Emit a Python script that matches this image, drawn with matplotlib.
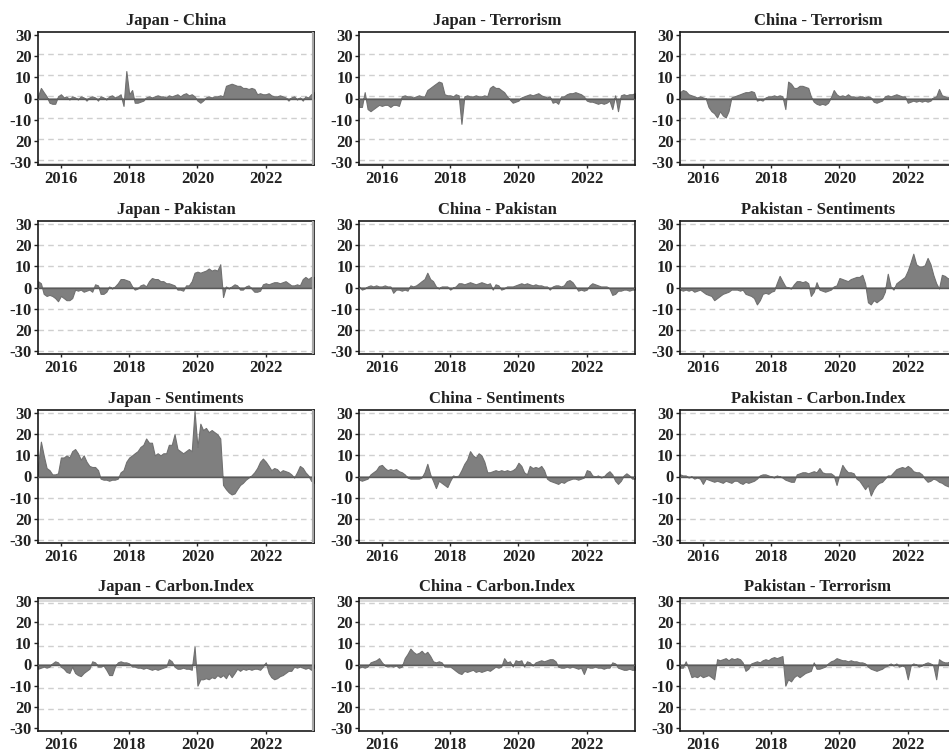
import numpy as np
import pandas as pd
import matplotlib
matplotlib.use("Agg")
import matplotlib.pyplot as plt
import matplotlib.dates as mdates

# monthly observations, May 2015 .. Jun 2023
dates = pd.date_range("2015-05-01", periods=98, freq="MS")

japan_china = [
    1, 5, 3, 1, -2, -2.5, -2.5, 1,
    2, 0.5, 1, -0.5, 1, 0.5, -0.5, 1, 0.5, -1, 0.5, 1,
    0.5, -1, 1, 0.5, -0.5, 1, 1.5, 0.5, 1, 2, -3.5, 13,
    2, 4, -2, -2, -1.5, -1, 0.5, 1, 0.5, 1, 1.5, 1,
    1, 0.5, 1.5, 1, 1.5, 2, 1, 2, 2.5, 1.5, 2, 1,
    -1, -2, -1, 0.5, 1, 0.5, 1, 1, 1.5, 1, 6, 6.5,
    7, 6.5, 6, 6, 5, 5, 4.5, 5, 4.5, 2, 2.5, 2,
    2, 2.5, 1.5, 1, 1, 1.5, 1, 0.5, -1, 0.5, 1, -0.5,
    0.5, -1, 1, 0.5, 2, 3,
]
japan_terrorism = [
    -4, -4, 3, -5, -6, -5, -4, -3,
    -3.5, -3, -3, -4, -3, -3, -3.5, 1, 1.5, 1, 1, 0.5,
    1, 1.5, 1, 1, 4, 5, 6, 7, 8, 7.5, 2, 1.5,
    1.5, 1, 2, 1.5, -12, 1, 1.5, 1, 1, 1.5, 1, 1,
    1.5, 1, 5, 6, 5, 5, 4, 3, 1, -0.5, -2, -1.5,
    -1, 0.5, 1, 1.5, 2, 1.5, 2, 2.5, 1.5, 1, 0.5, 1,
    -2, -1.5, -2.5, 1, 1, 2, 2.5, 2.5, 3, 2.5, 2, 1,
    -1, -1.5, -1.5, -2, -2.5, -2, -2.5, -2, -1, -5, 1.5, -6,
    1.5, 2, 1.5, 2, 2, 2.5,
]
china_terrorism = [
    3, 4, 3.5, 2, 1.5, 1, 0.5, 1,
    0.5, 0, -4, -6, -7, -9, -6, -8, -9, -6, 0.5, 1,
    1.5, 2, 2.5, 3, 3, 3.5, 3, -1, -0.5, -1, 0.5, 1,
    1, 1.5, 1, 1.5, 1, -5, 8, 7, 5, 5, 6, 6,
    5.5, 5, 1, -1.5, -2.5, -3, -2.5, -3, -2, 0.5, 4, 2,
    1, 1.5, 1, 2, 1, 1, 0.5, 1, 1, 0.5, 1, 0.5,
    -1.5, -2, -1.5, -1, 1, 1.5, 1, 1.5, 2, 1.5, 1, 1,
    -2, -1.5, -1, -1.5, -1, -1.5, -1, -1.5, -1, 0.5, 1, 4.5,
    1.5, 1, 0.5, 1, 0.5, 1,
]
japan_pakistan = [
    3, 2, -3, -4, -3.5, -4, -5, -6.5,
    -4, -5, -6, -6, -5, -1, -1.5, -1, -2, -1.5, -1, -2,
    1.5, 1, -3, -3, -2, 0.5, -0.5, 0.5, 2, 4, 4, 3.5,
    3, 0.5, -1, -0.5, 1, 1.5, 0.5, 3, 4.5, 4, 4, 3,
    3, 2, 2, 1.5, 1, -1, -1, -1.5, 1, 1, 3, 7,
    7.5, 7, 7.5, 8, 9, 8, 8.5, 8, 11, -4.5, 0.5, -0.5,
    0.5, 1.5, 1, -1, -1, 0.5, 1, -0.5, -2, -2, -1.5, 1.5,
    2, 1.5, 2, 2.5, 2.5, 2, 2.5, 3, 2, 1, 1, 1.5,
    1, 4, 5, 4, 5, 5,
]
china_pakistan = [
    0.5, -1, -0.5, 0.5, 1, 0.5, 1, 0.5,
    0.5, 1, 0.5, 0.5, -2.5, -1, -1, -1.5, -1, -1.5, 1, 0.5,
    1, 2, 3, 4, 7, 4, 3, 0.5, -0.5, 0.5, 0.5, 0.5,
    -1, 0, 0.5, 2, 2, 1.5, 2, 2.5, 2, 1.5, 2, 2.5,
    2, 1.5, 2, -1, 1.5, 1, -1, -0.5, 0.5, 0.5, 0.5, 1,
    1.5, 2, 1.5, 2, 1.5, 1, 1.5, 1, 1, 0.5, 0.5, -1,
    0.5, 1, 1, 0.5, 1, 3, 3.5, 2.5, 0.5, -1.5, -1, -1.5,
    -1, 1, 2, 1.5, 1, 0.5, 0.5, 0.5, -0.5, -3.5, -3, -1.5,
    -1.5, -1, -1, -1.5, -1, -1,
]
pakistan_sentiments = [
    -1, -1.5, -1, -1.5, -1, -2, -1.5, -1,
    -2, -3, -3.5, -4, -6, -5, -4, -3, -2.5, -2, -1, -1,
    -1, -1.5, -1, -3, -3.5, -4, -5, -8, -6, -3, -2.5, -3,
    -2, -1.5, 2, 5.5, 3, 0.5, 0, -0.5, 1.5, 3, 3, 2.5,
    3, 2, -4, -2, 2.5, -1, -1.5, -2, -1.5, -1, 0.5, 1,
    4.5, 4, 3.5, 3, 4, 4.5, 5, 5, 6, 2, -7, -8,
    -6, -7, -6, -5, -2, 6.5, 0.5, -1, 2, 3, 4, 5,
    8, 12, 16, 11, 10, 10, 10.5, 14, 11, 6, 2, -0.5,
    6, 5.5, 4.5, 4, 3, 2,
]
japan_sentiments = [
    5, 16.5, 10, 4, 3, 1, 1, 1.5,
    9, 9, 10, 9, 12, 13, 11, 8, 10, 7, 5, 4.5,
    4.5, 3, -1, -1.5, -1.5, -2, -1.5, -1.5, -1, 2, 3, 7,
    9, 10, 11, 12, 14, 15, 18, 16, 16, 10, 11, 10,
    11, 11, 15, 15, 20, 13, 12, 11, 12, 13, 12, 31,
    14, 25, 22, 23, 21, 22, 21, 20, 18, -4, -6, -7.5,
    -8.5, -8, -6, -4, -3, -1.5, -0.5, 0.5, 2, 4, 7, 8.5,
    7, 5, 3, 4, 3.5, 2, 3, 2.5, 2, 1, -0.5, 2,
    5, 4, 2, 0.5, -2, -3,
]
china_sentiments = [
    -1.5, -2, -1.5, -1, 1, 2, 3, 5,
    5.5, 4, 3, 3.5, 3, 3.5, 2.5, 2, 1, -0.5, -1, -1,
    -1, -1, -0.5, 2, 6, 1, -2, -5.5, -2, -3, -4, -5,
    -2, 0.5, 0, 0.5, 3, 6, 8, 12, 10, 9, 11, 10,
    7, 2, 2, 2.5, 3, 2.5, 3, 2.5, 3, 2.5, 3, 4,
    6.5, 5, 2, 1, 5, 4, 4.5, 4, 5, 3, -1, -2,
    -2.5, -3, -3.5, -2.5, -3, -2, -1.5, -1, -1, -1.5, -1, -0.5,
    3, 2.5, 0.5, 0, 0.5, -0.5, 0, 1.5, 2.5, 1, -2, -3.5,
    -2, 0.5, 1.5, 0.5, -1, -1,
]
pakistan_carbon = [
    1, 0.5, 0.5, -0.5, 0, -1, -0.5, -1,
    -3.5, -1, -1.5, -2, -2.5, -2, -2.5, -3, -2, -2.5, -3, -2,
    -2, -3, -3.5, -2.5, -3, -2.5, -2, -1, 0.5, 1, 1, 0.5,
    0, -0.5, 0.5, 0, -0.5, -1.5, -2, -2.5, -2.5, 1, 1.5, 2,
    2, 1.5, 2, 2.5, 2, 4, 2, 1.5, 1.5, 1.5, 0.5, -4,
    1, 5.5, 3.5, 2, 2, 1.5, -1, -2, -4, -6, -4, -9,
    -6, -4, -3, -2.5, -1, 0.5, 0.5, 2, 3.5, 4, 4.5, 4,
    5, 4, 2.5, 2, 2, 1, -1, -2.5, -2, -1, -1.5, -2.5,
    -3, -4, -4.5, -5, -6, -7,
]
japan_carbon = [
    -2, -1.5, -1, -1.5, -1, 0.5, 1.5, 1,
    -1, -2, -3.5, -4, -1, -4, -5, -5.5, -4, -3, -2, 1.5,
    1, -1, -1, -0.5, -2.5, -5, -5, -1, 1, 1.5, 1, 1,
    0.5, -1, -1, -1.5, -1.5, -2, -1.5, -2, -2.5, -2, -2.5, -2,
    -1.5, -1, 2.5, 1.5, -1, -2, -2, -1.5, -2, -2, -2.5, 8.5,
    -10, -7, -7, -6.5, -7, -6, -6.5, -5, -6, -5, -6.5, -4,
    -6, -4, -2, -3, -2, -2.5, -2, -2.5, -2, -2, -2.5, -1,
    1, -4, -6, -7, -6.5, -5.5, -5, -4, -3, -3, -1, -1.5,
    -1, -1.5, -2, -1.5, -2.5, -1.5,
]
china_carbon = [
    -1.5, -1, -1.5, -1, 1, 1.5, 2, 3,
    1, -0.5, -1, -0.5, -1, -0.5, -1.5, -1, 3, 5, 7.5, 6,
    5, 5.5, 6.5, 5, 6, 4, 1.5, 1, 1.5, 1, -1, -1,
    -1, -2, -3, -4, -4.5, -3, -3.5, -3, -2.5, -3.5, -3, -3.5,
    -3, -2.5, -3, -2, -1, -1.5, -1, 3, 1, 1.5, -1, 2,
    1.5, 2, -1, 1.5, 1, -0.5, 1, 1.5, 2, 1.5, 2, 2.5,
    2.5, 1.5, -1, -1.5, -1.5, -1, -1.5, -1, -1.5, -2, -1.5, -4.5,
    -1, -1.5, -1.5, -1, -1.5, -1.5, -2, -1.5, -1.5, 1, 0.5, -1.5,
    -2, -2.5, -2.5, -2, -2.5, -2.5,
]
pakistan_terrorism = [
    -1.5, -1.5, 1.5, -2, -6, -5.5, -6, -5,
    -6, -5.5, -5, -6, -7, 2.5, 2, 2.5, 3, 2, 3, 2.5,
    3, 2.5, 1, -3, -2, 0.5, 1, 1.5, 1, 2, 2.5, 2,
    3, 3.5, 3, 3.5, 4, -10, -7, -8, -6, -5, -6, -5,
    -4, -3.5, -3, 1, -2, -2, -1.5, -1, 0.5, 1.5, 2, 3,
    2.5, 2, 2, 1.5, 2, 1.5, 1.5, 1, 1, 0.5, -1, -2,
    -2.5, -3, -2.5, -2, -1, -0.5, 0.5, -0.5, 0.5, -1, -0.5, -1,
    -7, -0.5, 0.5, 0, -1, -0.5, 0.5, 1, 0.5, -0.5, -7, 2.5,
    1.5, 1, 1, 1.5, 1, 1,
]

titles = [
    "Japan - China", "Japan - Terrorism", "China - Terrorism",
    "Japan - Pakistan", "China - Pakistan", "Pakistan - Sentiments",
    "Japan - Sentiments", "China - Sentiments", "Pakistan - Carbon.Index",
    "Japan - Carbon.Index", "China - Carbon.Index", "Pakistan - Terrorism",
]
series = [
    japan_china, japan_terrorism, china_terrorism,
    japan_pakistan, china_pakistan, pakistan_sentiments,
    japan_sentiments, china_sentiments, pakistan_carbon,
    japan_carbon, china_carbon, pakistan_terrorism,
]
y_ticks = [30, 20, 10, 0, -10, -20, -30]
y_ticklabels = ["30", "20", "10", "0", "-10", "20", "-30"]

FONT = "Liberation Serif"
FILL = "#7f7f7f"
GRID = "#cfcfcf"

W, H = 949, 753
col_left = [38, 359, 680]
row_top = [32, 221, 410, 598]
ax_w, ax_h = 276, 133
# the grid in the first and last rows sits one unit off the ticks
grid_shift = [1, 0, 0, -1]


def add_panel(fig, r, c, title, values):
    ax = fig.add_axes([col_left[c] / W, 1 - (row_top[r] + ax_h) / H, ax_w / W, ax_h / H])
    y = np.array(values, dtype=float)
    ax.fill_between(dates, y, 0, color=FILL, linewidth=0.8, edgecolor="#707070", zorder=2)
    ax.axhline(0, color="#5a5a5a", linewidth=1.0, zorder=3)

    for g in y_ticks:
        gy = g + grid_shift[r]
        if abs(gy) < 0.5 or abs(gy) > 30.5:
            continue
        ax.axhline(gy, color=GRID, linestyle=(0, (4, 3)), linewidth=1.0, zorder=1)
    if r == 0:
        ax.axhspan(-31.5, -30.4, color="#d0d0d0", linewidth=0, zorder=1)
    if r == 3:
        ax.axhspan(29.6, 31.5, color="#dadada", linewidth=0, zorder=1)
    if c == 0:
        ax.axvline(dates[-1], color="#a8a8a8", linewidth=3, zorder=4)

    ax.set_xlim(dates[0], dates[-1])
    ax.set_ylim(-31.5, 31.5)
    ax.set_yticks(y_ticks)
    ax.set_yticklabels(y_ticklabels)
    ax.xaxis.set_major_locator(mdates.YearLocator(2))
    ax.xaxis.set_major_formatter(mdates.DateFormatter("%Y"))
    ax.tick_params(axis="both", labelsize=12, length=3, width=1, color="#222222",
                   labelcolor="#222222", pad=1.5)
    ax.tick_params(axis="x", length=2.5, pad=1.5)
    for lab in ax.get_xticklabels() + ax.get_yticklabels():
        lab.set_fontfamily(FONT)
        lab.set_fontweight("bold")
    for sp in ax.spines.values():
        sp.set_linewidth(1.2)
        sp.set_color("#1a1a1a")
    ax.set_title(title, fontsize=12, fontweight="bold", family=FONT, color="#222222", pad=5)
    return ax


fig = plt.figure(figsize=(W / 100, H / 100), dpi=100, facecolor="white")
for i, (t, v) in enumerate(zip(titles, series)):
    add_panel(fig, i // 3, i % 3, t, v)

fig.savefig("out.png", dpi=100, facecolor="white")
